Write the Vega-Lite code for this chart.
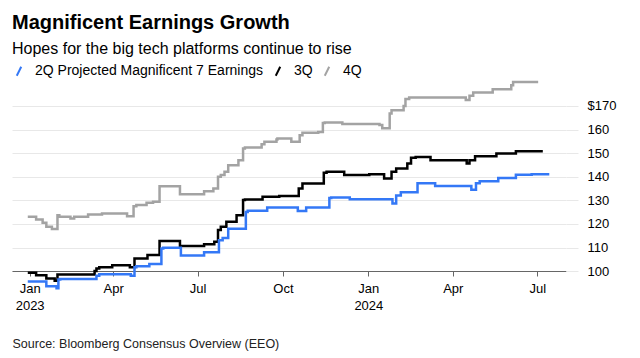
{
  "$schema": "https://vega.github.io/schema/vega-lite/v6.json",
  "width": 554,
  "height": 210,
  "autosize": {"type": "none"},
  "padding": {"left": 12, "top": 80, "right": 74, "bottom": 68},
  "title": {
    "text": "Magnificent Earnings Growth",
    "subtitle": "Hopes for the big tech platforms continue to rise",
    "anchor": "start",
    "frame": "group",
    "fontSize": 20,
    "fontWeight": "bold",
    "subtitleFontSize": 16,
    "subtitlePadding": 8,
    "offset": 7,
    "color": "#000000",
    "subtitleColor": "#000000"
  },
  "config": {
    "font": "Liberation Sans",
    "view": {"stroke": null}
  },
  "data": {
    "values": [
      {"s": "4Q", "d": "2022-12-30", "v": 123.0},
      {"s": "4Q", "d": "2023-01-08", "v": 121.9},
      {"s": "4Q", "d": "2023-01-15", "v": 120.5},
      {"s": "4Q", "d": "2023-01-19", "v": 118.8},
      {"s": "4Q", "d": "2023-01-25", "v": 117.8},
      {"s": "4Q", "d": "2023-01-31", "v": 123.7},
      {"s": "4Q", "d": "2023-02-02", "v": 123.0},
      {"s": "4Q", "d": "2023-02-14", "v": 122.3},
      {"s": "4Q", "d": "2023-02-18", "v": 123.0},
      {"s": "4Q", "d": "2023-03-05", "v": 124.0},
      {"s": "4Q", "d": "2023-03-20", "v": 124.4},
      {"s": "4Q", "d": "2023-04-16", "v": 123.3},
      {"s": "4Q", "d": "2023-04-23", "v": 127.5},
      {"s": "4Q", "d": "2023-04-26", "v": 128.0},
      {"s": "4Q", "d": "2023-05-07", "v": 129.0},
      {"s": "4Q", "d": "2023-05-14", "v": 129.4},
      {"s": "4Q", "d": "2023-05-21", "v": 136.0},
      {"s": "4Q", "d": "2023-06-12", "v": 132.6},
      {"s": "4Q", "d": "2023-07-08", "v": 133.9},
      {"s": "4Q", "d": "2023-07-18", "v": 135.0},
      {"s": "4Q", "d": "2023-07-23", "v": 140.0},
      {"s": "4Q", "d": "2023-07-26", "v": 140.7},
      {"s": "4Q", "d": "2023-07-30", "v": 142.1},
      {"s": "4Q", "d": "2023-08-03", "v": 144.9},
      {"s": "4Q", "d": "2023-08-14", "v": 147.0},
      {"s": "4Q", "d": "2023-08-19", "v": 152.0},
      {"s": "4Q", "d": "2023-08-21", "v": 152.4},
      {"s": "4Q", "d": "2023-09-08", "v": 153.8},
      {"s": "4Q", "d": "2023-09-11", "v": 154.8},
      {"s": "4Q", "d": "2023-09-24", "v": 155.8},
      {"s": "4Q", "d": "2023-09-25", "v": 156.2},
      {"s": "4Q", "d": "2023-10-10", "v": 154.8},
      {"s": "4Q", "d": "2023-10-19", "v": 157.6},
      {"s": "4Q", "d": "2023-10-22", "v": 158.6},
      {"s": "4Q", "d": "2023-11-08", "v": 159.0},
      {"s": "4Q", "d": "2023-11-13", "v": 162.8},
      {"s": "4Q", "d": "2023-11-15", "v": 163.0},
      {"s": "4Q", "d": "2023-12-04", "v": 162.3},
      {"s": "4Q", "d": "2024-01-13", "v": 161.9},
      {"s": "4Q", "d": "2024-01-16", "v": 160.5},
      {"s": "4Q", "d": "2024-01-24", "v": 166.8},
      {"s": "4Q", "d": "2024-01-26", "v": 168.2},
      {"s": "4Q", "d": "2024-02-08", "v": 170.0},
      {"s": "4Q", "d": "2024-02-10", "v": 172.9},
      {"s": "4Q", "d": "2024-02-14", "v": 173.6},
      {"s": "4Q", "d": "2024-04-15", "v": 172.5},
      {"s": "4Q", "d": "2024-04-19", "v": 174.3},
      {"s": "4Q", "d": "2024-04-23", "v": 175.7},
      {"s": "4Q", "d": "2024-05-14", "v": 177.1},
      {"s": "4Q", "d": "2024-06-03", "v": 178.8},
      {"s": "4Q", "d": "2024-06-05", "v": 180.2},
      {"s": "4Q", "d": "2024-07-02", "v": 180.2},

      {"s": "3Q", "d": "2022-12-30", "v": 99.3},
      {"s": "3Q", "d": "2023-01-08", "v": 98.3},
      {"s": "3Q", "d": "2023-01-19", "v": 96.9},
      {"s": "3Q", "d": "2023-01-28", "v": 95.9},
      {"s": "3Q", "d": "2023-01-31", "v": 98.6},
      {"s": "3Q", "d": "2023-03-12", "v": 100.0},
      {"s": "3Q", "d": "2023-03-14", "v": 101.1},
      {"s": "3Q", "d": "2023-03-17", "v": 101.6},
      {"s": "3Q", "d": "2023-03-31", "v": 102.5},
      {"s": "3Q", "d": "2023-04-19", "v": 101.6},
      {"s": "3Q", "d": "2023-04-24", "v": 105.4},
      {"s": "3Q", "d": "2023-05-08", "v": 106.8},
      {"s": "3Q", "d": "2023-05-21", "v": 112.8},
      {"s": "3Q", "d": "2023-06-12", "v": 110.6},
      {"s": "3Q", "d": "2023-07-08", "v": 111.4},
      {"s": "3Q", "d": "2023-07-19", "v": 112.4},
      {"s": "3Q", "d": "2023-07-23", "v": 117.4},
      {"s": "3Q", "d": "2023-07-26", "v": 118.8},
      {"s": "3Q", "d": "2023-08-01", "v": 120.9},
      {"s": "3Q", "d": "2023-08-12", "v": 123.7},
      {"s": "3Q", "d": "2023-08-19", "v": 130.1},
      {"s": "3Q", "d": "2023-08-21", "v": 130.4},
      {"s": "3Q", "d": "2023-09-09", "v": 131.5},
      {"s": "3Q", "d": "2023-09-27", "v": 131.8},
      {"s": "3Q", "d": "2023-10-18", "v": 135.0},
      {"s": "3Q", "d": "2023-10-22", "v": 137.1},
      {"s": "3Q", "d": "2023-11-14", "v": 141.7},
      {"s": "3Q", "d": "2023-11-17", "v": 142.1},
      {"s": "3Q", "d": "2023-12-06", "v": 140.7},
      {"s": "3Q", "d": "2024-01-02", "v": 141.1},
      {"s": "3Q", "d": "2024-01-18", "v": 139.3},
      {"s": "3Q", "d": "2024-01-26", "v": 142.1},
      {"s": "3Q", "d": "2024-01-31", "v": 143.5},
      {"s": "3Q", "d": "2024-02-12", "v": 145.6},
      {"s": "3Q", "d": "2024-02-16", "v": 148.0},
      {"s": "3Q", "d": "2024-02-21", "v": 148.4},
      {"s": "3Q", "d": "2024-03-08", "v": 147.0},
      {"s": "3Q", "d": "2024-04-16", "v": 145.6},
      {"s": "3Q", "d": "2024-04-19", "v": 147.0},
      {"s": "3Q", "d": "2024-04-25", "v": 148.7},
      {"s": "3Q", "d": "2024-05-18", "v": 149.9},
      {"s": "3Q", "d": "2024-06-08", "v": 150.8},
      {"s": "3Q", "d": "2024-07-07", "v": 150.8},

      {"s": "2Q Projected Magnificent 7 Earnings", "d": "2022-12-30", "v": 95.6},
      {"s": "2Q Projected Magnificent 7 Earnings", "d": "2023-01-19", "v": 93.6},
      {"s": "2Q Projected Magnificent 7 Earnings", "d": "2023-01-30", "v": 92.7},
      {"s": "2Q Projected Magnificent 7 Earnings", "d": "2023-02-01", "v": 96.5},
      {"s": "2Q Projected Magnificent 7 Earnings", "d": "2023-02-03", "v": 96.7},
      {"s": "2Q Projected Magnificent 7 Earnings", "d": "2023-03-14", "v": 98.0},
      {"s": "2Q Projected Magnificent 7 Earnings", "d": "2023-03-17", "v": 98.7},
      {"s": "2Q Projected Magnificent 7 Earnings", "d": "2023-04-20", "v": 98.0},
      {"s": "2Q Projected Magnificent 7 Earnings", "d": "2023-04-24", "v": 101.6},
      {"s": "2Q Projected Magnificent 7 Earnings", "d": "2023-04-26", "v": 102.1},
      {"s": "2Q Projected Magnificent 7 Earnings", "d": "2023-05-10", "v": 103.0},
      {"s": "2Q Projected Magnificent 7 Earnings", "d": "2023-05-23", "v": 109.6},
      {"s": "2Q Projected Magnificent 7 Earnings", "d": "2023-05-25", "v": 109.9},
      {"s": "2Q Projected Magnificent 7 Earnings", "d": "2023-06-13", "v": 106.6},
      {"s": "2Q Projected Magnificent 7 Earnings", "d": "2023-07-08", "v": 108.0},
      {"s": "2Q Projected Magnificent 7 Earnings", "d": "2023-07-24", "v": 113.1},
      {"s": "2Q Projected Magnificent 7 Earnings", "d": "2023-07-28", "v": 114.0},
      {"s": "2Q Projected Magnificent 7 Earnings", "d": "2023-08-03", "v": 118.0},
      {"s": "2Q Projected Magnificent 7 Earnings", "d": "2023-08-22", "v": 125.1},
      {"s": "2Q Projected Magnificent 7 Earnings", "d": "2023-08-24", "v": 125.6},
      {"s": "2Q Projected Magnificent 7 Earnings", "d": "2023-09-14", "v": 127.0},
      {"s": "2Q Projected Magnificent 7 Earnings", "d": "2023-10-17", "v": 125.5},
      {"s": "2Q Projected Magnificent 7 Earnings", "d": "2023-10-26", "v": 127.0},
      {"s": "2Q Projected Magnificent 7 Earnings", "d": "2023-11-20", "v": 131.0},
      {"s": "2Q Projected Magnificent 7 Earnings", "d": "2023-11-22", "v": 131.2},
      {"s": "2Q Projected Magnificent 7 Earnings", "d": "2023-12-12", "v": 130.5},
      {"s": "2Q Projected Magnificent 7 Earnings", "d": "2024-01-27", "v": 128.7},
      {"s": "2Q Projected Magnificent 7 Earnings", "d": "2024-01-31", "v": 132.0},
      {"s": "2Q Projected Magnificent 7 Earnings", "d": "2024-02-05", "v": 133.4},
      {"s": "2Q Projected Magnificent 7 Earnings", "d": "2024-02-23", "v": 137.2},
      {"s": "2Q Projected Magnificent 7 Earnings", "d": "2024-03-13", "v": 136.1},
      {"s": "2Q Projected Magnificent 7 Earnings", "d": "2024-04-21", "v": 134.5},
      {"s": "2Q Projected Magnificent 7 Earnings", "d": "2024-04-26", "v": 137.2},
      {"s": "2Q Projected Magnificent 7 Earnings", "d": "2024-04-30", "v": 138.1},
      {"s": "2Q Projected Magnificent 7 Earnings", "d": "2024-05-20", "v": 139.5},
      {"s": "2Q Projected Magnificent 7 Earnings", "d": "2024-06-08", "v": 140.8},
      {"s": "2Q Projected Magnificent 7 Earnings", "d": "2024-06-25", "v": 141.1},
      {"s": "2Q Projected Magnificent 7 Earnings", "d": "2024-07-14", "v": 141.1}
    ]
  },
  "mark": {"type": "line", "interpolate": "step-after", "strokeWidth": 2.5},
  "encoding": {
    "x": {
      "field": "d",
      "type": "temporal",
      "scale": {"type": "utc", "domain": ["2022-12-13", "2024-08-01"], "nice": false},
      "axis": {
        "title": "Source: Bloomberg Consensus Overview (EEO)",
        "titleFontSize": 12.5,
        "titleFontWeight": "normal",
        "titleColor": "#222222",
        "titleAnchor": "start",
        "titleAlign": "left",
        "titleBaseline": "middle",
        "titleX": 0,
        "titleY": 72,
        "offset": -19,
        "grid": false,
        "domainColor": "#666666",
        "domainWidth": 1.2,
        "tickColor": "#666666",
        "tickSize": 5,
        "tickCount": {"interval": "month", "step": 3},
        "labelFontSize": 13,
        "labelColor": "#000000",
        "labelPadding": 6,
        "labelLineHeight": 17,
        "labelExpr": "utcFormat(datum.value, '%m') == '01' ? [utcFormat(datum.value, '%b'), utcFormat(datum.value, '%Y')] : utcFormat(datum.value, '%b')"
      }
    },
    "y": {
      "field": "v",
      "type": "quantitative",
      "scale": {"domain": [92, 181], "nice": false, "zero": false},
      "axis": {
        "orient": "right",
        "title": null,
        "values": [100, 110, 120, 130, 140, 150, 160, 170],
        "grid": true,
        "gridColor": "#e8e8e8",
        "domain": false,
        "tickColor": "#e8e8e8",
        "tickSize": 12,
        "labelPadding": 9,
        "labelFontSize": 13,
        "labelColor": "#000000",
        "labelExpr": "datum.value == 170 ? '$170' : datum.label"
      }
    },
    "color": {
      "field": "s",
      "type": "nominal",
      "scale": {
        "domain": ["2Q Projected Magnificent 7 Earnings", "3Q", "4Q"],
        "range": ["#3478f6", "#000000", "#a3a3a3"]
      },
      "legend": {
        "orient": "none",
        "legendX": 0,
        "legendY": -16,
        "direction": "horizontal",
        "title": null,
        "symbolType": "M-0.5,1L0.5,-1",
        "symbolSize": 80,
        "symbolStrokeWidth": 2,
        "labelFontSize": 14,
        "labelLimit": 400,
        "labelColor": "#000000",
        "labelOffset": 9,
        "columnPadding": 7
      }
    }
  }
}
